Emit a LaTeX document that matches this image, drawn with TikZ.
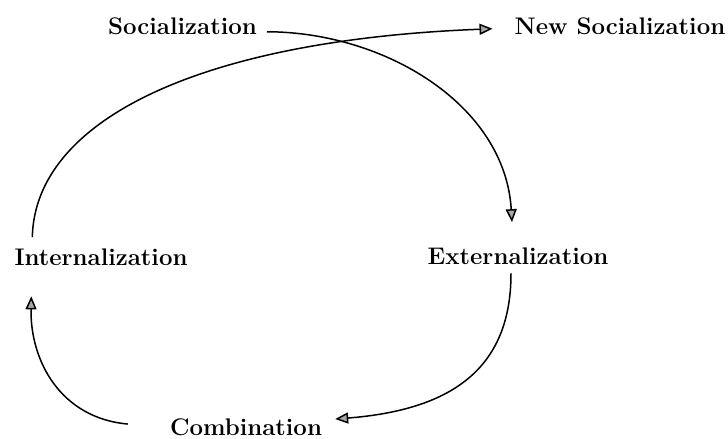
\documentclass[tikz,border=0pt]{standalone}
\usetikzlibrary{arrows.meta,calc}
\begin{document}
\begin{tikzpicture}[x=1bp,y=-1bp,
  lbl/.style={inner sep=0pt,anchor=base,font=\fontsize{24bp}{28bp}\selectfont\bfseries},
  arr/.style={line width=1.5bp,-{Triangle[length=13bp,width=11bp,fill=gray!70]}}]
\useasboundingbox (0,0) rectangle (728,439);
\node[lbl] (soc) at (182.5,35) {Socialization};
\node[lbl] (nsoc) at (620,35) {New Socialization};
\node[lbl] (int) at (101,266) {Internalization};
\node[lbl] (ext) at (518,265) {Externalization};
\node[lbl] (comb) at (246,435) {Combination};
\coordinate (s1) at ($(soc.east)+(10,5)$);
\coordinate (e1) at ($(ext.north)+(-6,-26)$);
\coordinate (i1) at ($(int.north west)+(18,-12)$);
\coordinate (n1) at ($(nsoc.west)+(-22,2)$);
\coordinate (e2) at ($(ext.south)+(-7,8)$);
\coordinate (c1) at ($(comb.north east)+(13,1)$);
\coordinate (c2) at ($(comb.north west)+(-42,6)$);
\coordinate (i2) at ($(int.south west)+(17,30)$);
\draw[arr] (s1) .. controls (385,32) and (505,105) .. (e1);
\draw[arr] (i1) .. controls (35,120) and (200,40) .. (n1);
\draw[arr] (e2) .. controls (511,370) and (450,410) .. (c1);
\draw[arr] (c2) .. controls (60,418) and (30,360) .. (i2);
\end{tikzpicture}
\end{document}
